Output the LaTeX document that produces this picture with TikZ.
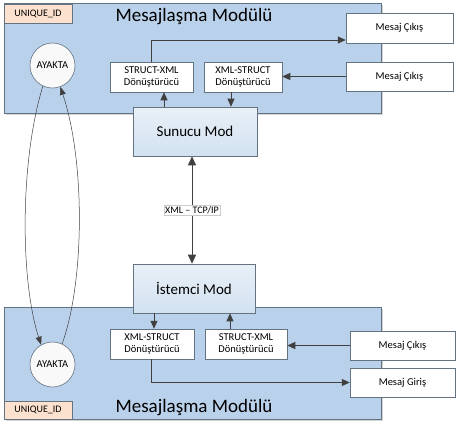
\documentclass[tikz,border=0pt]{standalone}
\usepackage{fontspec}
\setmainfont{Carlito}
\usetikzlibrary{arrows.meta,shadows,calc}
\definecolor{modfill}{RGB}{185,209,234}
\definecolor{modline}{RGB}{100,115,130}
\definecolor{srvfill}{RGB}{210,225,240}
\definecolor{idfill}{RGB}{252,226,206}
\definecolor{arr}{RGB}{64,64,64}
\tikzset{
  module/.style={draw=modline, fill=modfill, line width=0.6pt, inner sep=0pt, drop shadow={shadow xshift=1.5pt, shadow yshift=-1.5pt, opacity=0.35}},
  idbox/.style={draw=modline, fill=idfill, line width=0.5pt, inner sep=0pt, font=\fontsize{10}{11}\selectfont},
  wbox/.style={draw=modline, fill=white, line width=0.5pt, inner sep=0pt, align=center, font=\fontsize{10.5}{12.5}\selectfont, drop shadow={shadow xshift=1pt, shadow yshift=-1pt, opacity=0.3}},
  srv/.style={draw=modline, top color=srvfill!50!white, bottom color=srvfill, line width=0.6pt, inner sep=0pt, font=\fontsize{15}{17}\selectfont, drop shadow={shadow xshift=1pt, shadow yshift=-1pt, opacity=0.3}},
  circ/.style={draw=modline, fill=white!95!gray, circle, line width=0.6pt, minimum size=45pt, inner sep=0pt, font=\fontsize{10.5}{12}\selectfont},
  conn/.style={draw=arr, line width=0.9pt, -{Triangle[length=8pt,width=7pt]}},
  thinarr/.style={draw=arr, line width=0.5pt, -{Triangle[length=8pt,width=6pt]}},
  title/.style={font=\fontsize{19}{21}\selectfont},
}
\begin{document}
\begin{tikzpicture}[x=1pt,y=-1pt]
\useasboundingbox (0,0) rectangle (462,426);
% top module
\node[module, minimum width=377pt, minimum height=110pt] (topmod) at (192.5,58) {};
\node[idbox, minimum width=68pt, minimum height=19pt] (topid) at (38,13.5) {UNIQUE\_ID};
\node[title] (toptitle) at (194,17) {Mesajlaşma Modülü};
\node[circ] (topc) at (52.5,65.5) {AYAKTA};
\node[wbox, minimum width=83pt, minimum height=30pt] (sx1) at (151.5,77) {STRUCT-XML\\Dönüştürücü};
\node[wbox, minimum width=78pt, minimum height=30pt] (xs1) at (243,77) {XML-STRUCT\\Dönüştürücü};
\node[wbox, minimum width=107pt, minimum height=30pt] (mc1) at (399.5,28) {Mesaj Çıkış};
\node[wbox, minimum width=107pt, minimum height=29pt] (mc2) at (399.5,76.5) {Mesaj Çıkış};
\node[srv, minimum width=124pt, minimum height=49pt] (sun) at (195,131.5) {Sunucu Mod};

% bottom module
\node[module, minimum width=377pt, minimum height=112pt] (botmod) at (192.5,363) {};
\node[idbox, minimum width=68pt, minimum height=18pt] (botid) at (38,410) {UNIQUE\_ID};
\node[title] (bottitle) at (194,408) {Mesajlaşma Modülü};
\node[circ] (botc) at (52.5,364.5) {AYAKTA};
\node[srv, minimum width=122pt, minimum height=49pt] (ist) at (194,288.5) {İstemci Mod};
\node[wbox, minimum width=84pt, minimum height=30pt] (xs2) at (152,344) {XML-STRUCT\\Dönüştürücü};
\node[wbox, minimum width=82pt, minimum height=30pt] (sx2) at (246,344) {STRUCT-XML\\Dönüştürücü};
\node[wbox, minimum width=105pt, minimum height=29pt] (mc3) at (402.5,345.5) {Mesaj Çıkış};
\node[wbox, minimum width=105pt, minimum height=29pt] (mg) at (402.5,382.5) {Mesaj Giriş};

% top connectors
\coordinate (k1) at (151.5,40);
\draw[conn] (sx1.north) -- (k1) -- (k1 -| mc1.west);
\draw[conn] (mc2.west) -- (mc2.west -| xs1.east);
\draw[conn] (xs1.south -| 231,0) -- (sun.north -| 231,0);
\draw[conn] (sun.north -| 164,0) -- (sx1.south -| 164,0);
% middle
\draw[line width=1pt, draw=arr, {Triangle[length=9pt,width=8pt]}-{Triangle[length=9pt,width=8pt]}] (sun.south -| 192,0) -- (ist.north -| 192,0)
  node[pos=0.5, fill=white, draw=gray!40, line width=0.3pt, inner sep=1pt, font=\fontsize{10}{11}\selectfont] (proto) {XML – TCP/IP};
% bottom connectors
\draw[conn] (ist.south -| 154,0) -- (xs2.north -| 154,0);
\draw[conn] (sx2.north -| 230,0) -- (ist.south -| 230,0);
\draw[conn] (mc3.west) -- (mc3.west -| sx2.east);
\coordinate (k2) at (151,382.5);
\draw[conn] (xs2.south -| k2) -- (k2) -- (mg.west);
% circles
\draw[thinarr] (topc.245) .. controls (20,160) and (20,280) .. (botc.120);
\draw[thinarr] (botc.65) .. controls (85,280) and (85,160) .. (topc.290);
\end{tikzpicture}
\end{document}
